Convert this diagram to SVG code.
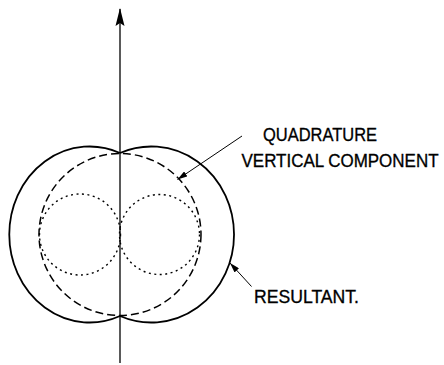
<svg xmlns="http://www.w3.org/2000/svg" width="444" height="365" viewBox="0 0 444 365">
<style>
.res{fill:none;stroke:#000;stroke-width:1.8}
.quad{fill:none;stroke:#000;stroke-width:1.5;stroke-dasharray:8 4}
.dot{fill:none;stroke:#000;stroke-width:1.4;stroke-dasharray:2 3.5}
.ax{stroke:#000;stroke-width:1.3;fill:none}
.ptr{stroke:#000;stroke-width:1;fill:none}
.lbl{font-family:"Liberation Sans",Arial,sans-serif;font-size:17px;fill:#000;stroke:#000;stroke-width:0.3}
</style>
<defs>
<marker id="ahAxis" viewBox="0 0 18 10" refX="17" refY="5" markerWidth="18" markerHeight="10" markerUnits="userSpaceOnUse" orient="auto">
<path d="M0,0.5 L18,5 L0,9.5 L3,5 Z" fill="#000"/>
</marker>
<marker id="ahPtr" viewBox="0 0 10 6" refX="10" refY="3" markerWidth="10" markerHeight="6" markerUnits="userSpaceOnUse" orient="auto">
<path d="M0,0 L10,3 L0,6 Z" fill="#000"/>
</marker>
</defs>
<g id="axis">
<line class="ax" x1="120" y1="363" x2="120" y2="9" marker-end="url(#ahAxis)"/>
</g>
<g id="resultant">
<path class="res" d="M120,153 A80.4,88 0 1 0 120,316"/>
<path class="res" d="M120,153 A82.8,88 0 1 1 120,316"/>
</g>
<g id="quadrature">
<circle class="quad" cx="120" cy="234.5" r="81"/>
</g>
<g id="dipoles">
<circle class="dot" cx="80" cy="234.5" r="40.5"/>
<circle class="dot" cx="159.5" cy="234.5" r="40"/>
</g>
<g id="connectors">
<line class="ptr" x1="242" y1="136" x2="177.5" y2="179.5" marker-end="url(#ahPtr)"/>
<line class="ptr" x1="251.5" y1="286.5" x2="230" y2="263" marker-end="url(#ahPtr)"/>
</g>
<g id="labels">
<text class="lbl" transform="translate(263,140.7) scale(1,1.1)" x="0" y="0" textLength="114" lengthAdjust="spacingAndGlyphs">QUADRATURE</text>
<text class="lbl" transform="translate(241.5,167.3) scale(1,1.1)" x="0" y="0" textLength="197" lengthAdjust="spacingAndGlyphs">VERTICAL COMPONENT</text>
<text class="lbl" transform="translate(254,303.3) scale(1,1.1)" x="0" y="0" textLength="105" lengthAdjust="spacingAndGlyphs">RESULTANT.</text>
</g>
</svg>
